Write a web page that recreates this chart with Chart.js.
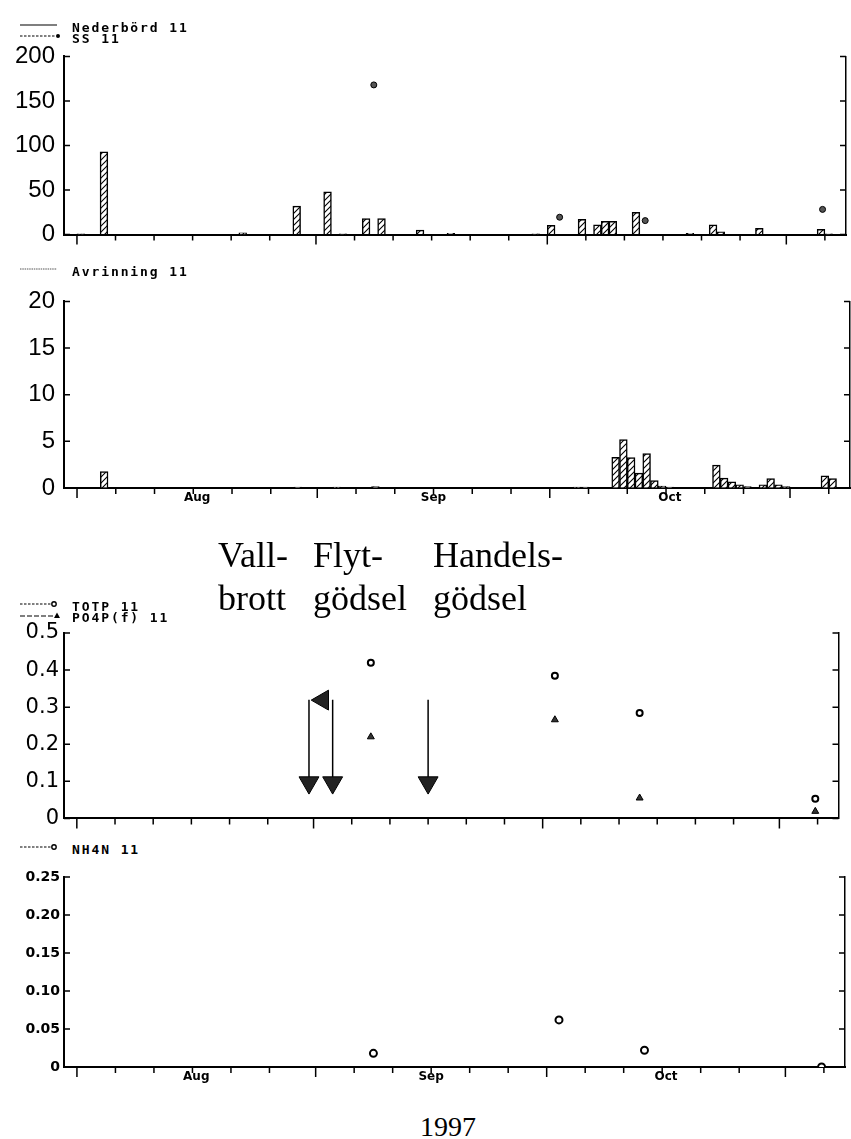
<!DOCTYPE html>
<html>
<head>
<meta charset="utf-8">
<script src="https://cdn.jsdelivr.net/npm/chart.js@4.4.1/dist/chart.umd.min.js"></script>
<style>
body { margin: 0; background: #fff; }
#page { position: relative; width: 851px; height: 1139px; overflow: hidden; background: #fff; }
canvas { position: absolute; left: 0; }
.leg { position: absolute; left: 0; width: 300px; height: 10px; }
.leg svg { position: absolute; left: 20px; top: 0; }
.leg span { position: absolute; left: 72px; top: 0; line-height: 10px; font: bold 13px 'DejaVu Sans Mono', monospace; letter-spacing: 1.9px; white-space: pre; color: #000; }
.note { position: absolute; font-family: 'Liberation Serif', 'Times New Roman', serif; font-size: 36px; line-height: 43px; color: #000; white-space: pre; }
</style>
</head>
<body>
<div id="page"></div>
<script>
// days counted from 1 Aug 1997 (= 0)
var monthStart = [0, 31, 61, 92];
var monthMid = [15.5, 46, 76.5];
var monthNames = ['Aug', 'Sep', 'Oct'];
var dayTicks = [0, 5, 10, 15, 20, 25, 31, 36, 41, 46, 51, 56, 61, 66, 71, 76, 81, 86, 92, 97];

// Nederbörd 11 (daily bars)
var nedDays = [0, 3, 21, 28, 32, 34, 37, 39, 44, 48, 59, 61, 65, 67, 68, 69, 72, 79, 82, 83, 88, 96, 97];
var nedValues = [0.8, 93, 2, 32, 48, 0.8, 18, 18, 5, 1.5, 1, 10.5, 17, 11, 15, 15, 25, 1.5, 11, 3, 7, 6, 1];

// Avrinning 11 (daily bars)
var avrDays = [3, 28, 33, 38, 64, 65, 69, 70, 71, 72, 73, 74, 75, 76, 82, 83, 84, 85, 86, 88, 89, 90, 91, 96, 97];
var avrValues = [1.75, 0.1, 0.1, 0.15, 0.1, 0.1, 3.3, 5.2, 3.25, 1.6, 3.7, 0.8, 0.2, 0.1, 2.45, 1.05, 0.65, 0.35, 0.15, 0.35, 1.0, 0.35, 0.15, 1.3, 1.0];

// water samples
var sampleDays = [38.5, 62.6, 73.7, 96.7];
var ssValues = [168, 19.5, 15.7, 28.3];
var totpValues = [0.42, 0.385, 0.284, 0.053];
var po4pValues = [0.22, 0.266, 0.055, 0.019];
var nh4nValues = [0.018, 0.062, 0.022, 0];

// Vallbrott, Flytgödsel, Handelsgödsel
var eventDays = [30.4, 33.5, 46];

Chart.defaults.font.family = "'Liberation Sans', Arial, sans-serif";
Chart.defaults.color = '#000';

function makeHatch() {
	var c = document.createElement('canvas');
	c.width = 6;
	c.height = 6;
	var g = c.getContext('2d');
	g.fillStyle = '#fff';
	g.fillRect(0, 0, 6, 6);
	g.strokeStyle = '#000';
	g.lineWidth = 1.1;
	g.beginPath();
	g.moveTo(0, 6); g.lineTo(6, 0);
	g.moveTo(-1, 1); g.lineTo(1, -1);
	g.moveTo(5, 7); g.lineTo(7, 5);
	g.stroke();
	return g.createPattern(c, 'repeat');
}
var hatch = makeHatch();

// inward ticks on both y axes, day ticks under the x axis
var tickPlugin = {
	id: 'plotTicks',
	afterDraw: function(chart) {
		var ctx = chart.ctx, a = chart.chartArea;
		var ys = chart.scales.y, xs = chart.scales.x;
		var i, p, len;
		ctx.save();
		ctx.strokeStyle = '#000';
		ctx.lineWidth = 1.5;
		ctx.beginPath();
		for (i = 0; i < ys.ticks.length; i++) {
			p = ys.getPixelForValue(ys.ticks[i].value);
			ctx.moveTo(a.left, p); ctx.lineTo(a.left + 6, p);
			ctx.moveTo(a.right, p); ctx.lineTo(a.right - 6, p);
		}
		for (i = 0; i < dayTicks.length; i++) {
			p = xs.getPixelForValue(dayTicks[i]);
			len = monthStart.indexOf(dayTicks[i]) >= 0 ? 10 : 6;
			ctx.moveTo(p, a.bottom); ctx.lineTo(p, a.bottom + len);
		}
		ctx.stroke();
		ctx.restore();
	}
};

function pts(days, values, shift) {
	var out = [];
	for (var i = 0; i < days.length; i++) {
		out.push({x: days[i] + shift, y: values[i]});
	}
	return out;
}

function makePanel(p) {
	var canvas = document.createElement('canvas');
	canvas.width = 851;
	canvas.height = p.height;
	canvas.style.top = p.top + 'px';
	document.getElementById('page').appendChild(canvas);

	return new Chart(canvas.getContext('2d'), {
		type: 'bar',
		data: {datasets: p.datasets},
		plugins: [tickPlugin],
		options: {
			responsive: false,
			animation: false,
			events: [],
			layout: {padding: {top: 20, left: 0, right: 0, bottom: 0}},
			plugins: {legend: {display: false}, tooltip: {enabled: false}},
			scales: {
				x: {
					type: 'linear',
					offset: false,
					min: -1.68,
					max: 99.74,
					afterBuildTicks: function(scale) {
						scale.ticks = monthMid.map(function(v) { return {value: v}; });
					},
					afterFit: function(scale) { scale.height = p.xHeight; },
					ticks: {
						autoSkip: false,
						maxRotation: 0,
						padding: 3,
						font: {family: "'DejaVu Sans', sans-serif", size: 12, weight: 'bold'},
						callback: function(v, i) { return p.months ? monthNames[i] : ''; }
					},
					grid: {drawOnChartArea: false, drawTicks: false, offset: false},
					border: {color: '#000', width: 2}
				},
				y: {
					type: 'linear',
					min: 0,
					max: p.yMax,
					afterFit: function(scale) { scale.width = 64; },
					ticks: {
						stepSize: p.yStep,
						padding: p.yPad,
						font: p.yFont,
						callback: function(v) {
							var k = Math.round(v / p.labelStep);
							if (Math.abs(v / p.labelStep - k) > 1e-6) return '';
							if (k === 0) return '0';
							return (k * p.labelStep).toFixed(p.decimals);
						}
					},
					grid: {drawOnChartArea: false, drawTicks: false},
					border: {color: '#000', width: 2}
				},
				yR: {
					type: 'linear',
					position: 'right',
					min: 0,
					max: p.yMax,
					afterFit: function(scale) { scale.width = 1; },
					ticks: {display: false},
					grid: {drawOnChartArea: false, drawTicks: false},
					border: {color: '#000', width: 1.5}
				}
			}
		}
	});
}

function barSet(days, values) {
	return {
		type: 'bar',
		data: pts(days, values, 0.5),
		backgroundColor: hatch,
		borderColor: '#000',
		borderWidth: 1.5,
		barThickness: 7.75
	};
}

function dotSet(values, style) {
	var s = {
		type: 'scatter',
		data: pts(sampleDays, values, 0),
		pointStyle: 'circle',
		pointRadius: 3,
		pointBorderWidth: 2,
		pointBorderColor: '#000',
		pointBackgroundColor: '#fff'
	};
	for (var k in style) s[k] = style[k];
	return s;
}

// panel 1: Nederbörd + SS
makePanel({
	top: 33, height: 225, xHeight: 14, months: false,
	yMax: 200, yStep: 25, labelStep: 50, decimals: 0, yPad: 9,
	yFont: {family: "'Liberation Sans', sans-serif", size: 24},
	datasets: [
		barSet(nedDays, nedValues),
		dotSet(ssValues, {pointRadius: 3, pointBorderWidth: 1, pointBackgroundColor: '#555'})
	]
});

// panel 2: Avrinning
makePanel({
	top: 278, height: 234, xHeight: 24, months: true,
	yMax: 20, yStep: 2.5, labelStep: 5, decimals: 0, yPad: 9,
	yFont: {family: "'Liberation Sans', sans-serif", size: 24},
	datasets: [barSet(avrDays, avrValues)]
});

// panel 3: TOTP, PO4P(f) and the field operations
var arrowSets = [];
for (var e = 0; e < eventDays.length; e++) {
	arrowSets.push({
		type: 'line',
		data: [{x: eventDays[e], y: 0.32}, {x: eventDays[e], y: 0.0966}],
		borderColor: '#000',
		borderWidth: 1.5,
		fill: false,
		pointStyle: 'triangle',
		pointRotation: 180,
		pointRadius: [0, 11.5],
		pointBorderWidth: 1,
		pointBorderColor: '#000',
		pointBackgroundColor: '#222'
	});
}
arrowSets.push({
	type: 'scatter',
	data: [{x: 32.2, y: 0.319}],
	pointStyle: 'triangle',
	pointRotation: 270,
	pointRadius: 11.5,
	pointBorderWidth: 1,
	pointBorderColor: '#000',
	pointBackgroundColor: '#222'
});

makePanel({
	top: 613, height: 223, xHeight: 14, months: false,
	yMax: 0.5, yStep: 0.05, labelStep: 0.1, decimals: 1, yPad: 5,
	yFont: {family: "'DejaVu Sans', sans-serif", size: 21},
	datasets: [
		dotSet(totpValues, {pointRadius: 3}),
		dotSet(po4pValues, {pointStyle: 'triangle', pointRadius: 4, pointBorderWidth: 1, pointBackgroundColor: '#333'})
	].concat(arrowSets)
});

// panel 4: NH4N
makePanel({
	top: 857, height: 234, xHeight: 24, months: true,
	yMax: 0.25, yStep: 0.025, labelStep: 0.05, decimals: 2, yPad: 4,
	yFont: {family: "'DejaVu Sans', sans-serif", size: 14, weight: 'bold'},
	datasets: [dotSet(nh4nValues, {pointRadius: 3.5})]
});

// legends
function addLegend(center, label, kind) {
	var d = document.createElement('div');
	d.className = 'leg';
	d.style.top = (center - 5) + 'px';
	var svg = '<svg width="45" height="10">';
	if (kind == 'solid') {
		svg += '<line x1="0" y1="5" x2="37" y2="5" stroke="#000" stroke-width="1.2"/>';
	} else if (kind == 'grey') {
		svg += '<line x1="0" y1="5" x2="37" y2="5" stroke="#555" stroke-width="1" stroke-dasharray="1.5,0.8"/>';
	} else if (kind == 'dotfill') {
		svg += '<line x1="0" y1="5" x2="35" y2="5" stroke="#000" stroke-width="1.2" stroke-dasharray="2.5,1.5"/>';
		svg += '<circle cx="38" cy="5" r="2" fill="#000"/>';
	} else if (kind == 'dotopen') {
		svg += '<line x1="0" y1="5" x2="31" y2="5" stroke="#000" stroke-width="1.2" stroke-dasharray="2.5,1.5"/>';
		svg += '<circle cx="34" cy="5" r="2.2" fill="#fff" stroke="#000" stroke-width="1.4"/>';
	} else if (kind == 'tri') {
		svg += '<line x1="0" y1="6" x2="34" y2="6" stroke="#000" stroke-width="1.2" stroke-dasharray="5,2"/>';
		svg += '<polygon points="34,8 40,8 37,2.5" fill="#000"/>';
	}
	svg += '</svg>';
	d.innerHTML = svg + '<span></span>';
	d.querySelector('span').textContent = label;
	document.getElementById('page').appendChild(d);
}
addLegend(24.5, 'Nederbörd 11', 'solid');
addLegend(35.8, 'SS 11', 'dotfill');
addLegend(269, 'Avrinning 11', 'grey');
addLegend(603.5, 'TOTP 11', 'dotopen');
addLegend(614.5, 'PO4P(f) 11', 'tri');
addLegend(846.8, 'NH4N 11', 'dotopen');

function addNote(left, top, text, size) {
	var d = document.createElement('div');
	d.className = 'note';
	d.style.left = left + 'px';
	d.style.top = top + 'px';
	if (size) {
		d.style.fontSize = size + 'px';
		d.style.lineHeight = size + 'px';
	}
	d.textContent = text;
	document.getElementById('page').appendChild(d);
}
addNote(218, 534, 'Vall-\nbrott');
addNote(313, 534, 'Flyt-\ngödsel');
addNote(433, 534, 'Handels-\ngödsel');
addNote(420, 1113, '1997', 28);
</script>
</body>
</html>
